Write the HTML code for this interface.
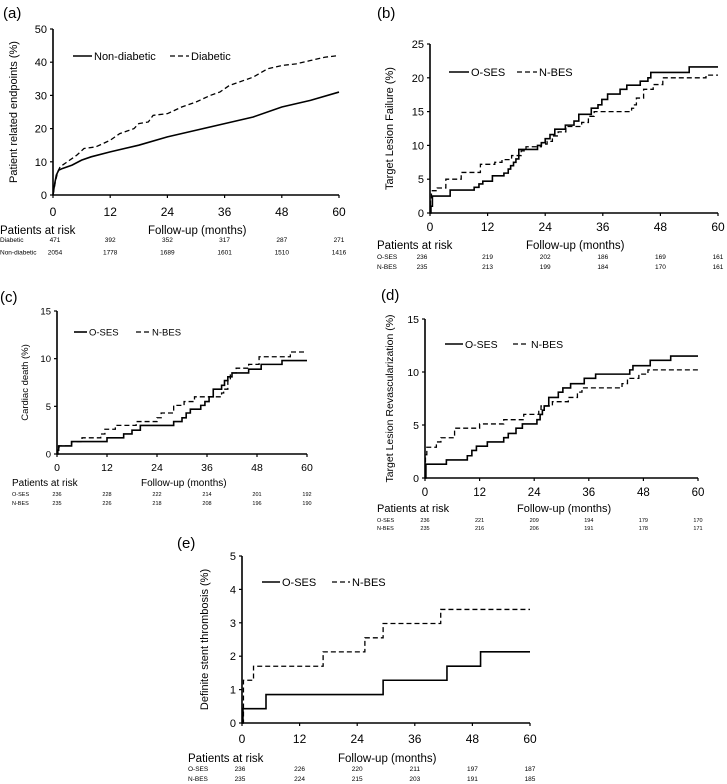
<!DOCTYPE html>
<html><head><meta charset="utf-8"><style>
body{margin:0;background:#fff;}
svg{display:block;font-family:"Liberation Sans",Arial,sans-serif;}
</style></head><body>
<svg id="fig" width="727" height="784" viewBox="0 0 727 784"></svg>
<script>
// ---- data (months, cumulative %) ----
const xTicks = [0,12,24,36,48,60];
const riskTimes = [0,12,24,36,48,60];
const aNonDiabetic = [[0,0],[0.3,3],[0.7,6],[1.2,7.5],[2,8],[4,9],[6,10.5],[8,11.5],[12,13],[18,15],[24,17.5],[30,19.5],[36,21.5],[42,23.5],[48,26.5],[54,28.5],[60,31]];
const aDiabetic = [[0,0],[0.5,4],[1,7],[1.5,8.5],[3,10],[5,12],[6.5,14],[9,14.5],[12,16.5],[14,18.5],[17,20],[18,21.5],[20,22],[21,24],[24,24.5],[27,26.5],[30,28],[33,30],[35,31],[37,33],[39,34],[42,35.5],[45,38],[48,39],[51,39.5],[54,40.5],[57,41.5],[60,42]];
const aRiskDiabetic = ["471","392","352","317","287","271"];
const aRiskNonDiabetic = ["2054","1778","1689","1601","1510","1416"];
const bOSES = [[0,0],[0.2,1],[0.5,2.5],[4.2,3.4],[9.2,3.8],[10.2,4.3],[11,4.7],[13,5.5],[15.4,5.9],[16.3,6.5],[16.8,7],[17.4,7.5],[17.9,8],[18.5,9.4],[22.4,10],[23.2,10.4],[24,11],[25,11.6],[26,12.4],[28.2,13],[30,13.6],[31,14.6],[33.6,15.5],[35,16],[35.8,16.8],[37,17.6],[39.6,18.3],[41,18.9],[43.8,19.5],[45.4,20],[46,20.8],[54,21.6]];
const bNBES = [[0,0],[0.1,2],[0.3,3.3],[1.5,3.7],[3.3,5],[6.5,6],[10.5,7.2],[13.5,7.5],[15,7.9],[17,8.5],[19,9.2],[20,9.8],[23.2,10.2],[24.4,10.6],[25.5,11.4],[26.7,12],[28.3,12.8],[31.6,13.4],[33,14.3],[34.2,15],[42,15.5],[42.6,16],[43,17],[44.5,18.3],[46.5,19],[48.5,20],[57.5,20.4]];
const bRiskOSES = ["236","219","202","186","169","161"];
const bRiskNBES = ["235","213","199","184","170","161"];
const cOSES = [[0,0],[0.2,0.4],[0.4,0.85],[3.5,1.3],[12,1.7],[16,2.1],[18,2.5],[20,3],[28,3.4],[30,3.8],[31,4.3],[32,4.7],[34.5,5.1],[35.5,5.5],[36.5,6],[37.5,6.8],[39.5,7.2],[40.2,7.7],[41,8.1],[42,8.5],[46,8.9],[49,9.4],[54,9.8]];
const cNBES = [[0,0],[0.2,0.4],[0.5,0.85],[3.5,1.3],[6,1.7],[10.5,2.1],[11.5,2.6],[14,3],[19,3.4],[24,3.8],[25,4.3],[28,5.1],[30.5,5.5],[33,6],[39.5,6.4],[40,6.8],[41,7.7],[41.6,8.5],[43,9],[46,9.4],[48.5,10.2],[56,10.7]];
const cRiskOSES = ["236","228","222","214","201","192"];
const cRiskNBES = ["235","226","218","208","196","190"];
const dOSES = [[0,0],[0.2,1.3],[4.7,1.7],[9.3,2.1],[10.3,2.6],[11.3,3],[13.7,3.4],[17.3,3.8],[18.3,4.2],[20,4.7],[21.4,5.1],[24.6,5.5],[25.3,6],[25.8,6.4],[26.2,6.8],[27.2,7.6],[29.3,8.1],[30.3,8.5],[32,8.9],[35,9.4],[37.5,9.8],[45,10.2],[45.7,10.6],[49.5,11.1],[54,11.5]];
const dNBES = [[0,0],[0.1,2.2],[0.4,2.9],[2.5,3.4],[3.5,3.8],[6.5,4.7],[12,5.1],[17.3,5.5],[21.7,6],[25,6.4],[25.5,6.8],[28,7.2],[31.5,7.6],[33.5,8.1],[34.5,8.5],[43.3,8.9],[44.5,9.4],[47,9.8],[49,10.2]];
const dRiskOSES = ["236","221","209","194","179","170"];
const dRiskNBES = ["235","216","206","191","178","171"];
const eOSES = [[0,0],[0.2,0.43],[5,0.85],[29.4,1.28],[42.7,1.7],[49.7,2.13]];
const eNBES = [[0,0],[0.3,1.28],[2.4,1.7],[16.9,2.13],[25.6,2.55],[29.4,2.98],[41.4,3.4]];
const eRiskOSES = ["236","226","220","211","197","187"];
const eRiskNBES = ["235","224","215","203","191","185"];

const NS="http://www.w3.org/2000/svg";
const svg=document.getElementById('fig');
function mk(tag,attrs,parent){const e=document.createElementNS(NS,tag);for(const k in attrs)e.setAttribute(k,attrs[k]);(parent||svg).appendChild(e);return e;}
function txt(s,x,y,size,anchor,parent,name){const t=mk('text',{x:x,y:y,'font-size':size,'text-anchor':anchor||'start',fill:'#000'},parent);t.textContent=s;


return t;}

function panel(p){
  const g=mk('g',{});
  
  
  const xs=t=>p.x0+(p.x1-p.x0)*t/60;
  const ys=v=>p.y0-(p.y0-p.y1)*v/p.ymax;
  txt('('+p.id+')',p.lx,p.ly,15,'start',g,'panel-letter');
  const ax=mk('path',{d:`M${p.x0},${ys(p.ymax)}V${p.y0}H${p.x1}`,stroke:'#000','stroke-width':1.6,fill:'none'},g);
  
  
  for(let v=0;v<=p.ymax;v+=p.ystep){
    mk('line',{x1:p.x0-3,x2:p.x0,y1:ys(v),y2:ys(v),stroke:'#000','stroke-width':1.2},g);
    txt(String(v),p.x0-6,ys(v)+p.fs*0.36,p.fs,'end',g,'y-tick-label');
  }
  xTicks.forEach(t=>{
    mk('line',{x1:xs(t),x2:xs(t),y1:p.y0,y2:p.y0+3,stroke:'#000','stroke-width':1.2},g);
    txt(String(t),xs(t),p.tly,p.fs+1,'middle',g,'x-tick-label');
  });
  const yt=txt(p.ytitle,0,0,p.fs,'middle',g,'y-axis-title');
  yt.setAttribute('transform',`translate(${p.ytx},${(ys(0)+ys(p.ymax))/2}) rotate(-90)`);
  p.series.forEach((s,i)=>{
    let d=`M${xs(s.data[0][0])},${ys(s.data[0][1])}`;
    for(let k=1;k<s.data.length;k++){
      const [t,v]=s.data[k];
      d+= p.smooth?`L${xs(t)},${ys(v)}`:`H${xs(t)}V${ys(v)}`;
    }
    d+=`H${xs(60)}`;
    const pa=mk('path',{d:d,fill:'none',stroke:'#000','stroke-width':s.dash?1.3:1.6,'stroke-dasharray':s.dash?'5,3':'none'},g);
    
    
    const L=p.legend[i];
    const ll=mk('line',{x1:L[0],x2:L[1],y1:p.legy,y2:p.legy,stroke:'#000','stroke-width':s.dash?1.3:1.6,'stroke-dasharray':s.dash?'5,3':'none'},g);
    
    
    txt(s.label,L[1]+2,p.legy+p.fs*0.36,p.fs,'start',g,'legend-entry');
  });
  txt('Patients at risk',p.rx,p.hy,p.hfs,'start',g,'risk-header');
  txt('Follow-up (months)',p.fx,p.hy,p.hfs,'start',g,'x-axis-title');
  p.rows.forEach((r,i)=>{
    txt(r.label,p.rx,p.rowy[i],p.rfs,'start',g,'risk-row-label');
    r.vals.forEach((v,j)=>{
      const x=xs(riskTimes[j])+(j===0?p.off0:0);
      txt(v,x,p.rowy[i],p.rfs,'middle',g,'risk-count');
    });
  });
}

panel({id:'a',x0:53,x1:339,y0:195,y1:29,ymax:50,ystep:10,fs:11,tly:216,lx:3,ly:18,ytx:17,
  ytitle:'Patient related endpoints (%)',smooth:true,legy:56,legend:[[73,92],[170,189]],
  series:[{name:'non-diabetic',label:'Non-diabetic',data:aNonDiabetic},{name:'diabetic',label:'Diabetic',data:aDiabetic,dash:true}],
  rx:0,fx:148,hy:234,hfs:11.5,rfs:6.5,rowy:[242,254.5],off0:2,
  rows:[{label:'Diabetic',vals:aRiskDiabetic},{label:'Non-diabetic',vals:aRiskNonDiabetic}]});
panel({id:'b',x0:430,x1:718,y0:213,y1:44,ymax:25,ystep:5,fs:11,tly:231,lx:377,ly:18,ytx:393,
  ytitle:'Target Lesion Failure (%)',legy:72,legend:[[449,469],[517,537]],
  series:[{name:'o-ses',label:'O-SES',data:bOSES},{name:'n-bes',label:'N-BES',data:bNBES,dash:true}],
  rx:377,fx:526,hy:249,hfs:11.5,rfs:6.5,rowy:[259,269],off0:-8,
  rows:[{label:'O-SES',vals:bRiskOSES},{label:'N-BES',vals:bRiskNBES}]});
panel({id:'c',x0:57,x1:307,y0:454,y1:311,ymax:15,ystep:5,fs:9.5,tly:471,lx:0,ly:302,ytx:28,
  ytitle:'Cardiac death (%)',legy:332,legend:[[74,87],[136,150]],
  series:[{name:'o-ses',label:'O-SES',data:cOSES},{name:'n-bes',label:'N-BES',data:cNBES,dash:true}],
  rx:12,fx:141,hy:486,hfs:10,rfs:5.5,rowy:[496,505],off0:0,
  rows:[{label:'O-SES',vals:cRiskOSES},{label:'N-BES',vals:cRiskNBES}]});
panel({id:'d',x0:425,x1:698,y0:478,y1:319,ymax:15,ystep:5,fs:10.5,tly:496,lx:381,ly:300,ytx:393,
  ytitle:'Target Lesion Revascularization (%)',legy:344,legend:[[445,463],[513,529]],
  series:[{name:'o-ses',label:'O-SES',data:dOSES},{name:'n-bes',label:'N-BES',data:dNBES,dash:true}],
  rx:377,fx:517,hy:512,hfs:11,rfs:5.5,rowy:[522,530],off0:0,
  rows:[{label:'O-SES',vals:dRiskOSES},{label:'N-BES',vals:dRiskNBES}]});
panel({id:'e',x0:242,x1:530,y0:723,y1:556,ymax:5,ystep:1,fs:11,tly:743,lx:177,ly:548,ytx:208,
  ytitle:'Definite stent thrombosis (%)',legy:582,legend:[[262,280],[332,350]],
  series:[{name:'o-ses',label:'O-SES',data:eOSES},{name:'n-bes',label:'N-BES',data:eNBES,dash:true}],
  rx:188,fx:338,hy:762,hfs:11.5,rfs:6.5,rowy:[771,781],off0:-2,
  rows:[{label:'O-SES',vals:eRiskOSES},{label:'N-BES',vals:eRiskNBES}]});
</script>
</body></html>
